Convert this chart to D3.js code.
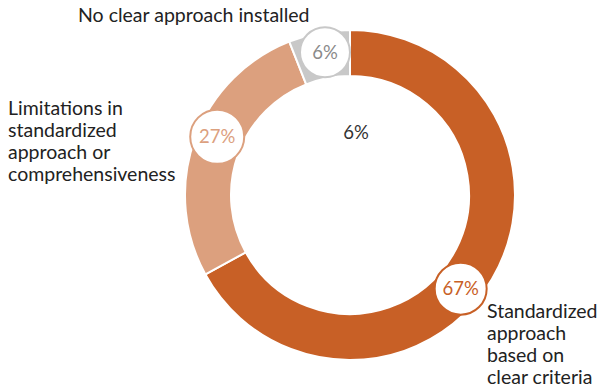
<!DOCTYPE html>
<html>
<head>
<meta charset="utf-8">
<script src="https://cdn.jsdelivr.net/npm/d3@7"></script>
<style>
  html, body { margin: 0; padding: 0; background: #fff; }
  svg { display: block; font-family: Lato, "Open Sans", sans-serif; }
</style>
</head>
<body>
<svg id="chart" width="602" height="387"></svg>
<script>
const categories = ["Standardized approach based on clear criteria", "Limitations in standardized approach or comprehensiveness", "No clear approach installed"];
const values = [67, 27, 6];
const valueLabels = ["67%", "27%", "6%"];
const colors = ["#c86026", "#dca07e", "#c8c8c8"];
const labelTextColors = ["#c86026", "#dca07e", "#8a8a8a"];
const centerLabel = "6%";

const svg = d3.select("#chart");
const cx = 350, cy = 195, outerR = 165, innerR = 119;
const g = svg.append("g").attr("transform", `translate(${cx},${cy})`);

const pie = d3.pie().sort(null).value(d => d)(values);
const arc = d3.arc().innerRadius(innerR).outerRadius(outerR);

g.selectAll("path.seg").data(pie).join("path")
  .attr("class", "seg")
  .attr("d", arc)
  .attr("fill", (d, i) => colors[i])
  .attr("stroke", "#fff")
  .attr("stroke-width", 2);

// value bubbles
const midR = (innerR + outerR) / 2 + 3;
const bubbleR = [26, 27, 25];
pie.forEach((d, i) => {
  const a = d.startAngle + 0.54 * (d.endAngle - d.startAngle);
  const x = midR * Math.sin(a), y = -midR * Math.cos(a);
  const bg = g.append("g").attr("transform", `translate(${x},${y})`);
  bg.append("circle").attr("r", bubbleR[i]).attr("fill", "#fff")
    .attr("stroke", colors[i]).attr("stroke-width", 2);
  bg.append("text").attr("text-anchor", "middle").attr("dy", "0.35em")
    .attr("font-size", 18.5).attr("fill", labelTextColors[i]).text(valueLabels[i]);
});

// center label
svg.append("text").attr("x", 356).attr("y", 139).attr("text-anchor", "middle")
  .attr("font-size", 18.5).attr("fill", "#333").text(centerLabel);

// category labels
const catLines = [
  ["Standardized", "approach", "based on", "clear criteria"],
  ["Limitations in", "standardized", "approach or", "comprehensiveness"],
  ["No clear approach installed"]
];
const catPos = [[487, 318], [8, 115], [78, 22]];
catLines.forEach((lines, i) => {
  const t = svg.append("text").attr("x", catPos[i][0]).attr("y", catPos[i][1])
    .attr("font-size", 19.5).attr("fill", "#222");
  lines.forEach((l, j) => t.append("tspan").attr("x", catPos[i][0]).attr("dy", j === 0 ? 0 : 22).text(l));
});
</script>
</body>
</html>
